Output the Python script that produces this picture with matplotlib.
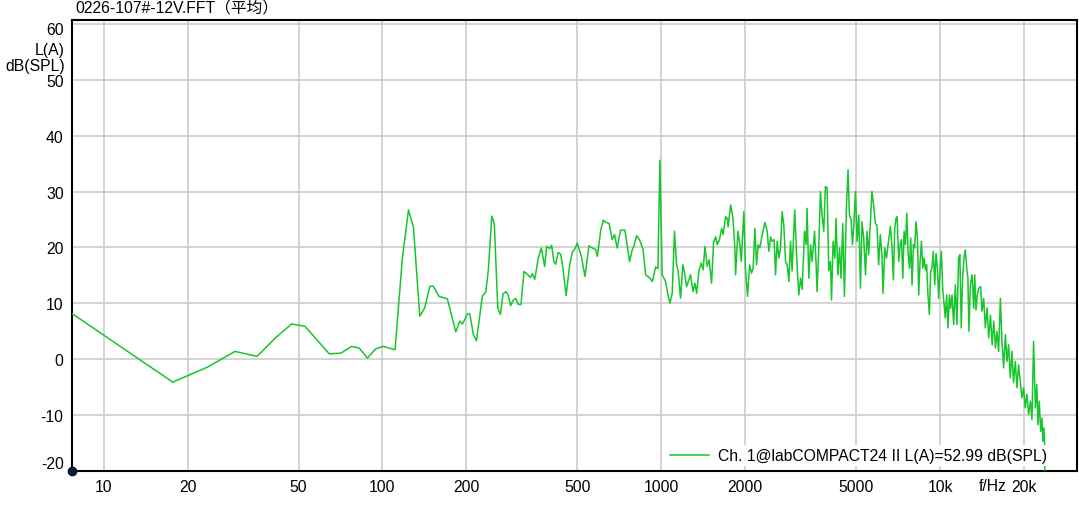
import numpy as np
import matplotlib.pyplot as plt
import matplotlib.transforms as mtransforms

# FFT spectrum, A-weighted
freq_hz = [
    7.74, 17.7, 23.6, 29.6, 35.5, 41.5, 47.2, 52.7, 64.5, 71.0, 77.5, 82.5, 88.4, 94.2, 100.6, 111,
    117.9, 124, 129.2, 136.1, 141.8, 147.8, 152, 159.6, 171, 183.3, 189.4, 193.6, 201.7, 205.8,
    211.9, 217.3, 228.2, 234.7, 239.9, 246.7, 252, 259.2, 265, 270.8, 277.5, 282.3, 288.4, 294,
    300.5, 307, 314, 322, 331, 340, 345, 351.8, 362.3, 371.5, 381.9, 388.2, 398, 404.6,
    412, 418, 427, 436, 444, 456, 469.5, 480, 490.6, 500, 517, 532.8, 550.6, 566, 582, 590,
    607, 620, 632, 650, 667, 680, 695, 714.5, 741, 770, 787, 798, 816, 836, 861, 879, 896,
    911, 929, 955, 973, 989, 1008, 1037, 1057, 1075, 1095, 1116, 1135, 1150, 1173, 1196,
    1216, 1233, 1250, 1274, 1300, 1321, 1340, 1365, 1392, 1414, 1435, 1462, 1486, 1516,
    1541, 1567, 1588, 1618, 1647, 1668, 1702, 1725,
    1738, 1774, 1808, 1837, 1848, 1884, 1915, 1937, 1978, 2005, 2040, 2074, 2108, 2137,
    2167, 2197, 2227, 2259, 2291, 2322, 2355, 2399, 2432, 2467, 2500, 2541, 2570, 2606,
    2642, 2679, 2715, 2753, 2792, 2831, 2870, 2909, 2946, 3012, 3047, 3083, 3116, 3160,
    3202, 3266, 3310, 3336, 3383, 3433, 3477, 3548, 3594, 3623, 3673, 3724, 3775, 3828,
    3881, 3935, 3990, 4045, 4082, 4136, 4195, 4238, 4300, 4361, 4416, 4478, 4541, 4618,
    4678, 4732, 4797, 4853, 4908, 4975, 5041, 5111, 5184, 5250, 5324, 5405, 5473, 5548,
    5625, 5700, 5780, 5863, 5940, 6024, 6107, 6190, 6248, 6338, 6426, 6513,
    6640, 6726, 6804, 6880, 6952, 7015, 7113, 7192, 7276, 7355, 7433, 7517, 7600, 7687,
    7772, 7853, 7936, 8030, 8115, 8200, 8298, 8389, 8480, 8578, 8673, 8763, 8862, 8954,
    9054, 9159, 9258, 9354, 9462, 9572, 9677, 9790, 9886, 10000, 10115, 10223, 10327,
    10446, 10568, 10674, 10806, 10914, 11040, 11194, 11350, 11500, 11660, 11780, 11920,
    12050, 12190, 12320, 12470, 12590, 12700, 12850, 13030, 13210, 13320, 13460, 13610,
    13760, 13990, 14140, 14340, 14540, 14750, 14950, 15170, 15380, 15590, 15810, 16010,
    16230, 16460, 16680, 16910, 17160, 17380, 17620, 17870, 18110, 18360, 18620, 18880,
    19130, 19400, 19670, 19940, 20210, 20490, 20800, 21090, 21370, 21660, 21980, 22240,
    22450, 22700, 22960, 23200, 23390, 23590, 23710, 23900,
]
level_db = [
    8.1, -4.1, -1.4, 1.4, 0.5, 3.9, 6.3, 5.9, 0.95, 1.1, 2.3, 2.0, 0.2, 1.8, 2.3, 1.7,
    18.1, 26.7, 23.6, 7.7, 9.2, 13.0, 13.1, 11.25, 10.8, 4.9, 6.8, 6.3, 8.1, 8.1,
    4.4, 3.3, 11.25, 12.0, 16.0, 25.6, 24.2, 9.2, 8.0, 11.7, 12.1, 11.5, 9.6, 10.5,
    10.9, 9.8, 9.8, 15.7, 15.2, 14.6, 15.3, 14.3, 18.1, 19.9, 16.6, 20.2, 19.8, 20.4,
    17.5, 17.0, 19.1, 18.8, 16.3, 11.4, 16.9, 19.2, 19.8, 20.8, 18.4, 14.8, 20.3, 19.9, 19.6, 18.4,
    23.1, 24.9, 24.5, 24.3, 21.4, 22.3, 19.9, 23.1, 23.1, 17.5, 19.6, 20.2, 22.1, 21.4, 19.6, 15.1, 14.8,
    14.5, 13.9, 16.5, 16.2, 35.6, 15.1, 13.9, 11.5, 10.05, 11.8, 22.9, 16.9, 15.8, 10.9, 16.9,
    15.1, 13.0, 13.9, 15.1, 12.1, 13.6, 11.8, 15.8, 17.2, 16.0, 20.2, 16.6, 17.8, 13.6,
    20.9, 21.9, 20.5, 21.4, 23.4, 22.3, 25.5, 25.2,
    23.7, 27.6, 25.3, 19.9, 15.1, 22.9, 20.5, 17.5, 26.4, 16.3, 11.25, 16.9, 15.4, 16.3,
    23.4, 16.9, 20.5, 19.9, 21.7, 23.1, 24.5, 22.9, 19.3, 21.9, 21.1, 21.4, 15.1, 21.1,
    18.1, 19.9, 26.4, 24.0, 17.5, 16.9, 13.9, 21.1, 15.8, 26.7, 20.5, 15.1, 11.5, 14.5,
    12.5, 22.9, 20.5, 27.0, 14.5, 20.5, 17.5, 22.9, 16.9, 12.1, 19.9, 30.0, 25.8, 22.9,
    30.9, 30.7, 15.8, 17.5, 10.6, 21.1, 18.1, 25.2, 15.1, 19.9, 14.5, 24.3, 11.25, 27.3,
    33.9, 25.8, 25.0, 20.5, 24.0, 30.0, 21.1, 25.8, 12.7, 24.6, 21.7, 15.1, 22.9, 18.7,
    24.6, 30.0, 27.6, 24.3, 24.0, 16.9, 22.3, 18.7, 11.8, 19.9, 18.1, 20.5,
    23.75, 19.9, 14.2, 23.4, 25.2, 25.5, 17.5, 20.5, 21.4, 14.5, 22.9, 20.5, 26.1, 18.7,
    16.3, 21.7, 13.3, 20.5, 19.9, 24.6, 21.7, 11.5, 17.5, 21.1, 16.3, 18.1, 16.0, 16.9,
    11.5, 8.0, 15.7, 16.3, 19.3, 13.3, 18.9, 16.3, 10.9, 15.7, 19.3, 12.7, 10.3,
    7.4, 11.5, 5.6, 11.5, 9.1, 11.5, 6.2, 13.3, 6.2, 18.1, 18.7, 5.6,
    14.5, 18.1, 19.6, 16.3, 14.5, 5.0, 13.3, 15.1, 9.1, 15.1, 8.8, 11.5,
    12.7, 13.0, 8.6, 10.9, 5.6, 9.2, 3.8, 7.9, 2.6, 6.8, 2.0, 5.0,
    1.4, 10.9, 3.2, -1.55, 4.4, -0.4, 2.6, -3.3, 1.4, -4.2, -0.4, -5.1,
    -1.0, -3.9, -6.9, -5.1, -8.7, -6.3, -9.9, -7.5, -10.8, 3.2, -8.7, -4.5,
    -11.7, -7.5, -12.9, -10.5, -14.7, -12.3, -15.0, -30.0,
]

x_ticks = [10, 20, 50, 100, 200, 500, 1000, 2000, 5000, 10000, 20000]
x_tick_labels = ['10', '20', '50', '100', '200', '500', '1000', '2000', '5000', '10k', '20k']
y_ticks = [-20, -10, 0, 10, 20, 30, 40, 50, 60]

title = '0226-107#-12V.FFT（平均）'
legend_label = 'Ch. 1@labCOMPACT24 II L(A)=52.99 dB(SPL)'

plt.rcParams['font.family'] = ['Liberation Sans', 'Noto Sans CJK SC', 'DejaVu Sans']
plt.rcParams['axes.unicode_minus'] = False
FS = 11.3

W, H = 1079, 506
fig = plt.figure(figsize=(W / 100, H / 100), dpi=100)
ax = fig.add_axes([72 / W, (H - 472) / H, (1077 - 72) / W, (472 - 21) / H])

ax.plot(freq_hz, level_db, color='#17c62c', lw=1.1, label=legend_label, zorder=3)

ax.set_xscale('log')
ax.set_xlim(7.7, 31000)
ax.set_ylim(-20, 60.7)
ax.set_xticks(x_ticks)
ax.set_xticklabels(x_tick_labels)
ax.minorticks_off()
ax.set_yticks(y_ticks)
ax.tick_params(length=0, labelsize=FS, colors='black')
ax.tick_params(axis='x', pad=6)
ax.tick_params(axis='y', pad=6)
ax.grid(True, color='#c8c8c8', lw=1.1)
ax.set_axisbelow(True)
for sp in ax.spines.values():
    sp.set_color('black')
    sp.set_linewidth(1.5)

# nudge the end labels inside the frame like the original software does
for lab in ax.get_yticklabels():
    if lab.get_text() in ('−20', '-20'):
        lab.set_transform(lab.get_transform() + mtransforms.ScaledTranslation(0, 9 / 100, fig.dpi_scale_trans))
    if lab.get_text() == '60':
        lab.set_transform(lab.get_transform() + mtransforms.ScaledTranslation(0, -4 / 100, fig.dpi_scale_trans))

# origin marker
ax.plot([7.7], [-20], 'o', color='#0a1a33', ms=6, clip_on=False, zorder=5)

leg = ax.legend(loc='lower right', bbox_to_anchor=(0.973, 0.01), frameon=True,
                fancybox=False, edgecolor='none', facecolor='white', framealpha=1,
                fontsize=FS, handlelength=2.5, handletextpad=0.55, borderpad=0.2,
                borderaxespad=0)

fig.text(75 / W, 1 - 8 / H, title, fontsize=FS, ha='left', va='center')
fig.text(65 / W, 1 - 51 / H, 'L(A)', fontsize=FS, ha='right', va='center')
fig.text(65 / W, 1 - 67 / H, 'dB(SPL)', fontsize=FS, ha='right', va='center')
fig.text(993 / W, 1 - 487 / H, 'f/Hz', fontsize=FS, ha='center', va='center')

fig.savefig('out.png', dpi=100)
